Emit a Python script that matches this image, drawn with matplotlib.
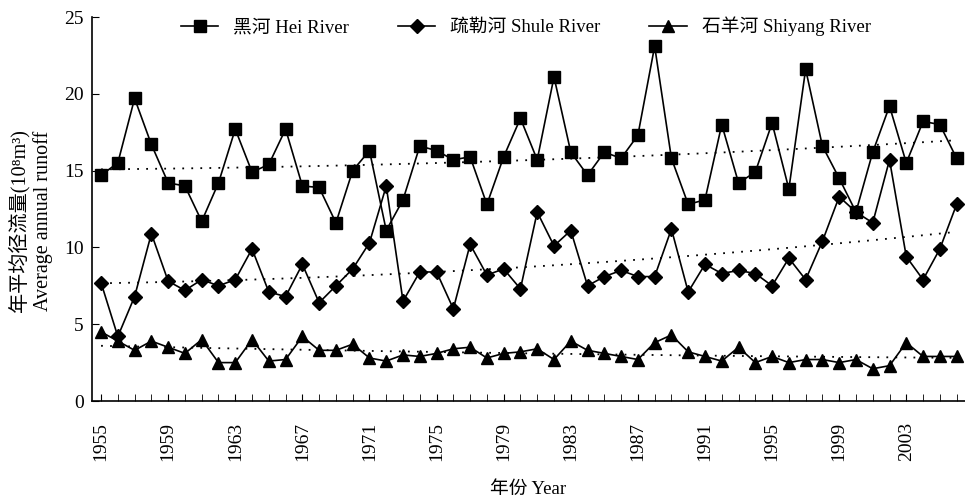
import numpy as np
import matplotlib
matplotlib.use("Agg")
import matplotlib.pyplot as plt

plt.rcParams['font.family'] = ['Liberation Serif', 'Noto Sans CJK SC', 'DejaVu Sans']

years = list(range(1955, 2007))

hei = [14.7, 15.5, 19.7, 16.7, 14.2, 14.0, 11.7, 14.2, 17.7, 14.9,
       15.4, 17.7, 14.0, 13.9, 11.6, 15.0, 16.3, 11.1, 13.1, 16.6,
       16.3, 15.7, 15.9, 12.8, 15.9, 18.4, 15.7, 21.1, 16.2, 14.7,
       16.2, 15.8, 17.3, 23.1, 15.8, 12.8, 13.1, 18.0, 14.2, 14.9,
       18.1, 13.8, 21.6, 16.6, 14.5, 12.3, 16.2, 19.2, 15.5, 18.2,
       18.0, 15.8]

shule = [7.7, 4.2, 6.8, 10.9, 7.8, 7.2, 7.9, 7.5, 7.9, 9.9,
         7.1, 6.8, 8.9, 6.4, 7.5, 8.6, 10.3, 14.0, 6.5, 8.4,
         8.4, 6.0, 10.2, 8.2, 8.6, 7.3, 12.3, 10.1, 11.1, 7.5,
         8.1, 8.5, 8.1, 8.1, 11.2, 7.1, 8.9, 8.3, 8.5, 8.3,
         7.5, 9.3, 7.9, 10.4, 13.3, 12.3, 11.6, 15.7, 9.4, 7.9,
         9.9, 12.8]

shiyang = [4.5, 3.9, 3.3, 3.9, 3.5, 3.1, 4.0, 2.5, 2.5, 4.0,
           2.6, 2.7, 4.2, 3.3, 3.3, 3.7, 2.8, 2.6, 3.0, 2.9,
           3.1, 3.4, 3.5, 2.8, 3.1, 3.2, 3.4, 2.7, 3.9, 3.3,
           3.1, 2.9, 2.7, 3.8, 4.3, 3.2, 2.9, 2.6, 3.5, 2.5,
           2.9, 2.5, 2.7, 2.7, 2.5, 2.7, 2.1, 2.3, 3.8, 2.9,
           2.9, 2.9]

labels = ['黑河 Hei River', '疏勒河 Shule River', '石羊河 Shiyang River']
markers = ['s', 'D', '^']
msizes = [9, 7, 9]
yticks = [0, 5, 10, 15, 20, 25]
xtick_years = list(range(1955, 2004, 4))

fig = plt.figure(figsize=(9.65, 4.98), dpi=100)
ax = fig.add_axes([92/965, 1-401/498, 1-92/965, (401-17)/498])

x = np.array(years, dtype=float)
xc = x - x.mean()
for data, lab, m, ms in zip([hei, shule, shiyang], labels, markers, msizes):
    y = np.array(data)
    ax.plot(x, y, color='black', lw=1.2, marker=m, markersize=ms,
            markerfacecolor='black', markeredgecolor='black', label=lab,
            clip_on=False, zorder=3)
    coef = np.polyfit(xc, y, 2)
    ax.plot(x, np.polyval(coef, xc), color='black', lw=1.3, ls=(0, (1, 4)), zorder=2)

ax.set_xlim(1954.46, 2006.5)
ax.set_ylim(0, 25)
ax.set_yticks(yticks)
ax.set_xticks(years, minor=True)
ax.set_xticks(xtick_years)
ax.set_xticklabels([str(v) for v in xtick_years], rotation=90, fontsize=14)
ax.tick_params(axis='y', direction='in', length=5, labelsize=14, pad=6)
ax.tick_params(axis='x', which='both', direction='in', length=5, pad=15)
for s in ['top', 'right']:
    ax.spines[s].set_visible(False)
for s in ['left', 'bottom']:
    ax.spines[s].set_linewidth(1.2)

ax.set_xlabel('年份 Year', fontsize=13.5, labelpad=14)
ax.set_ylabel('年平均径流量(10⁸m³)\nAverage annual runoff', fontsize=14.5,
              linespacing=1.2)
ax.yaxis.set_label_coords(-0.045, 0.47)

leg = ax.legend(loc='upper center', bbox_to_anchor=(0.497, 1.045), ncol=3, frameon=False,
                fontsize=13.5, handlelength=2.0, columnspacing=2.6, handletextpad=0.8)

fig.savefig('out.png', dpi=100)
